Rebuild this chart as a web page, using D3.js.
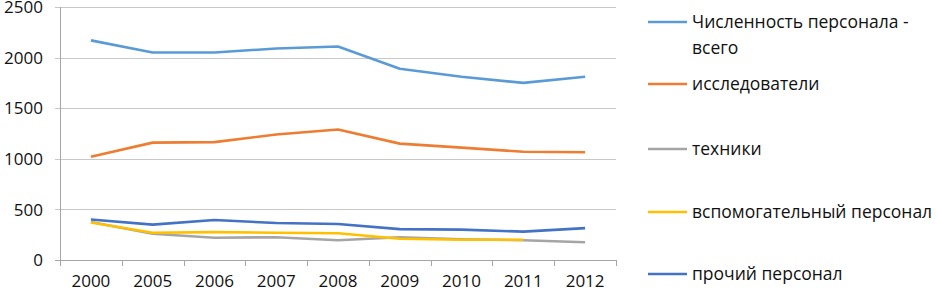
<!DOCTYPE html>
<html>
<head lang="ru">
    <meta charset="UTF-8">
    <title></title>
    <script src="https://cdn.jsdelivr.net/npm/d3@7/dist/d3.min.js" charset="UTF-8"></script>
    <style>
        body{margin:0;background:#fff;}
        text{font-family:"Open Sans",sans-serif;fill:#111;}
    </style>
</head>
<body>
<script>
    // годы
    var years=["2000","2005","2006","2007","2008","2009","2010","2011","2012"];
    var yTicks=[0,500,1000,1500,2000,2500];
    // ряды
    var total=[2170,2050,2050,2090,2110,1890,1810,1750,1810];
    var researchers=[1020,1160,1165,1240,1290,1150,1110,1070,1065];
    var technicians=[375,260,220,225,195,225,205,195,175];
    var auxiliary=[370,270,275,270,265,210,200,200,null];
    var other=[400,350,395,365,355,305,300,280,315];
    var names=["Численность персонала - всего","исследователи","техники","вспомогательный персонал","прочий персонал"];
    var colors=["#5B9BD5","#ED7D31","#A5A5A5","#FFC000","#4472C4"];

    var series=[total,researchers,technicians,auxiliary,other].map(function(v,i){
        return {name:names[i],color:colors[i],values:v};
    });

    var _svg=d3.select("body").append("svg")
            .attr("width",938).attr("height",294);

    var x=d3.scaleBand().domain(years).range([60,616]);
    var y=d3.scaleLinear().domain([0,2500]).range([260,7]);

    // сетка
    _svg.append("g").selectAll("line")
            .data(yTicks).enter().append("line")
            .attr("x1",55).attr("x2",616)
            .attr("y1",function(d){return Math.round(y(d))+0.5;})
            .attr("y2",function(d){return Math.round(y(d))+0.5;})
            .style("stroke",function(d){return d===0?"#a6a6a6":"#c8c8c8";})
            .style("stroke-width",1);

    // ось y
    _svg.append("line")
            .attr("x1",60.5).attr("x2",60.5).attr("y1",7).attr("y2",260)
            .style("stroke","#a6a6a6");
    _svg.append("g").selectAll("text")
            .data(yTicks).enter().append("text")
            .attr("x",43).attr("y",function(d){return y(d);})
            .attr("dy","0.36em")
            .attr("text-anchor","end")
            .style("font-size","17px")
            .text(function(d){return d;});

    // ось x
    var bounds=years.map(function(d){return x(d);}).concat([x.range()[1]]);
    _svg.append("g").selectAll("line")
            .data(bounds).enter().append("line")
            .attr("x1",function(d){return Math.round(d)+0.5;})
            .attr("x2",function(d){return Math.round(d)+0.5;})
            .attr("y1",260).attr("y2",266)
            .style("stroke","#a6a6a6");
    _svg.append("g").selectAll("text")
            .data(years).enter().append("text")
            .attr("x",function(d){return x(d)+x.bandwidth()/2;})
            .attr("y",287)
            .attr("text-anchor","middle")
            .style("font-size","17px")
            .text(function(d){return d;});

    // линии
    var line=d3.line()
            .defined(function(d){return d!=null;})
            .x(function(d,i){return x(years[i])+x.bandwidth()/2;})
            .y(function(d){return y(d);});
    _svg.append("g").selectAll("path")
            .data(series).enter().append("path")
            .attr("d",function(d){return line(d.values);})
            .style("fill","none")
            .style("stroke",function(d){return d.color;})
            .style("stroke-width",2.6)
            .style("stroke-linejoin","round");

    // легенда
    var legY=[22,84,149,212,274];
    var leg=_svg.append("g").selectAll("g")
            .data(series).enter().append("g")
            .attr("transform",function(d,i){return "translate(0,"+legY[i]+")";});
    leg.append("line")
            .attr("x1",648).attr("x2",687).attr("y1",0).attr("y2",0)
            .style("stroke",function(d){return d.color;})
            .style("stroke-width",2.6);
    leg.append("text")
            .attr("x",692).attr("dy","0.35em")
            .style("font-size","17.5px")
            .each(function(d,i){
                var t=d3.select(this);
                if(i===0){
                    t.append("tspan").attr("x",692).text("Численность персонала -");
                    t.append("tspan").attr("x",692).attr("dy",26).text("всего");
                }else{
                    t.text(d.name);
                }
            });
</script>
</body>
</html>
